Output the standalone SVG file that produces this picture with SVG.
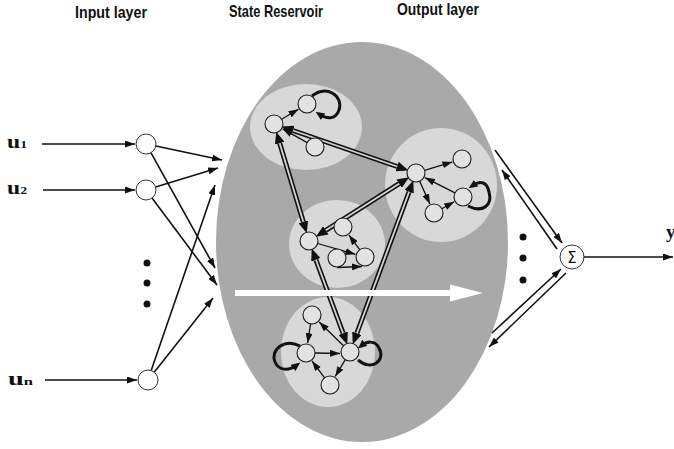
<svg xmlns="http://www.w3.org/2000/svg" width="674" height="449" viewBox="0 0 674 449">
<defs>
<style>
.title{font-family:"Liberation Sans Narrow","Liberation Sans",Arial,sans-serif;font-weight:bold;font-size:17px;fill:#111}
.lbl{font-family:"Liberation Serif","Times New Roman",serif;font-weight:bold;font-size:19px;fill:#111}
.sub{font-size:11px}
.io{fill:#fff;stroke:#333;stroke-width:1}
.nd{fill:#e2e2e2;stroke:#1a1a1a;stroke-width:1.1}
.cl{fill:#d8d8d8}
.ln{stroke:#111;stroke-width:1.6;fill:none;marker-end:url(#ah)}
.sl{stroke:#111;stroke-width:1.3;fill:none;marker-end:url(#as)}
.loop{stroke:#111;stroke-width:3;fill:none;marker-end:url(#al)}
.dbo{stroke:#111;stroke-width:5;fill:none;marker-start:url(#ad);marker-end:url(#ad)}
.dbi{stroke:#d4d4d4;stroke-width:1.8;fill:none}
.dot{fill:#111}
</style>
<marker id="ah" viewBox="0 0 10 7" refX="10" refY="3.5" markerWidth="10" markerHeight="7" markerUnits="userSpaceOnUse" orient="auto"><path d="M0,0 L10,3.5 L0,7 z" fill="#111"/></marker>
<marker id="as" viewBox="0 0 10 7" refX="10" refY="3.5" markerWidth="10" markerHeight="7" markerUnits="userSpaceOnUse" orient="auto"><path d="M0,0 L10,3.5 L0,7 z" fill="#111"/></marker>
<marker id="al" viewBox="0 0 9 8" refX="5" refY="4" markerWidth="9" markerHeight="8" markerUnits="userSpaceOnUse" orient="auto"><path d="M0,0 L9,4 L0,8 z" fill="#111"/></marker>
<marker id="ad" viewBox="0 0 12 10" refX="0" refY="5" markerWidth="12" markerHeight="10" markerUnits="userSpaceOnUse" orient="auto-start-reverse"><path d="M0,0 L12,5 L0,10 z" fill="#111"/></marker>
</defs>
<rect width="674" height="449" fill="#fff"/>

<g id="titles">
<text class="title" x="111" y="18" text-anchor="middle" textLength="72" lengthAdjust="spacingAndGlyphs">Input layer</text>
<text class="title" x="276" y="17" text-anchor="middle" textLength="94" lengthAdjust="spacingAndGlyphs">State Reservoir</text>
<text class="title" x="438" y="15" text-anchor="middle" textLength="82" lengthAdjust="spacingAndGlyphs">Output layer</text>
</g>

<g id="reservoir">
<ellipse cx="362" cy="242" rx="146" ry="200" fill="#a9a9a9"/>
<ellipse class="cl" cx="306" cy="127" rx="56" ry="43"/>
<ellipse class="cl" cx="441" cy="185" rx="56" ry="57"/>
<ellipse class="cl" cx="337" cy="244" rx="48" ry="44"/>
<ellipse class="cl" cx="328" cy="352" rx="47" ry="55"/>
</g>

<g id="connectors">
<!-- input arrows -->
<line class="ln" x1="42" y1="144" x2="135" y2="144"/>
<line class="ln" x1="43" y1="190" x2="135" y2="190"/>
<line class="ln" x1="45" y1="380" x2="137" y2="380"/>
<line class="ln" x1="155.8" y1="146" x2="222" y2="160"/>
<line class="ln" x1="150.9" y1="152.7" x2="215" y2="268"/>
<line class="ln" x1="155.6" y1="187.1" x2="218" y2="168"/>
<line class="ln" x1="152" y1="198" x2="217" y2="285"/>
<line class="ln" x1="151.2" y1="370.5" x2="215" y2="185"/>
<line class="ln" x1="154.2" y1="372.2" x2="213" y2="298"/>
<!-- double links -->
<line class="dbo" x1="292.9" y1="130.5" x2="397.1" y2="166.5"/>
<line class="dbi" x1="292.9" y1="130.5" x2="397.1" y2="166.5"/>
<line class="dbo" x1="279.7" y1="143.2" x2="303.3" y2="221.8"/>
<line class="dbi" x1="279.7" y1="143.2" x2="303.3" y2="221.8"/>
<line class="dbo" x1="325.9" y1="230.3" x2="399.1" y2="183.7"/>
<line class="dbi" x1="325.9" y1="230.3" x2="399.1" y2="183.7"/>
<line class="dbo" x1="409.1" y1="191.8" x2="356.9" y2="333.2"/>
<line class="dbi" x1="409.1" y1="191.8" x2="356.9" y2="333.2"/>
<line class="dbo" x1="315.9" y1="259.8" x2="343.1" y2="333.2"/>
<line class="dbi" x1="315.9" y1="259.8" x2="343.1" y2="333.2"/>
<!-- cluster A -->
<line class="sl" x1="281.7" y1="119.3" x2="298.5" y2="109.2"/>
<line class="sl" x1="307.2" y1="142.6" x2="282.7" y2="128.9"/>
<path class="loop" d="M312,96 C326,84 344,96 339,110 C336,119 328,120 319,114"/>
<!-- cluster B -->
<line class="sl" x1="424.6" y1="170.4" x2="452.4" y2="161.9"/>
<line class="sl" x1="455" y1="192.9" x2="424.9" y2="177.6"/>
<line class="sl" x1="419.7" y1="181.2" x2="429.9" y2="203.9"/>
<line class="sl" x1="441.9" y1="208.7" x2="454.2" y2="201.8"/>
<path class="loop" d="M468,206 C482,213 493,206 489,192 C487,182 481,180 472,186"/>
<!-- cluster C -->
<line class="sl" x1="317.7" y1="243.5" x2="355.4" y2="254.3"/>
<line class="sl" x1="359.7" y1="249.7" x2="348.9" y2="235.1"/>
<line class="sl" x1="337" y1="267.5" x2="362" y2="266.5"/>
<!-- cluster D -->
<line class="sl" x1="310.6" y1="323.9" x2="307.6" y2="343.1"/>
<line class="sl" x1="315" y1="353" x2="340" y2="353.5"/>
<line class="sl" x1="345.3" y1="359.7" x2="335.2" y2="376.5"/>
<line class="sl" x1="324.6" y1="377.8" x2="312" y2="361"/>
<line class="sl" x1="343.5" y1="345.7" x2="319.2" y2="322"/>
<path class="loop" d="M300,346 C284,338 270,350 275,362 C279,371 289,371 297,365"/>
<path class="loop" d="M358,360 C372,372 386,360 379,348 C375,340 367,341 361,346"/>
<!-- output arrows -->
<line class="ln" x1="495" y1="150" x2="562" y2="243"/>
<line class="ln" x1="557" y1="249" x2="502" y2="170"/>
<line class="ln" x1="492" y1="333" x2="561" y2="269"/>
<line class="ln" x1="566" y1="273" x2="489" y2="347"/>
<line class="ln" x1="584" y1="257" x2="673" y2="257"/>
</g>

<g id="flow-arrow">
<line x1="235" y1="293" x2="452" y2="293" stroke="#fff" stroke-width="6"/>
<polygon points="450,284.5 483,293 450,301.5" fill="#fff"/>
</g>

<g id="input-nodes">
<g id="in1"><circle class="io" cx="146" cy="144" r="10"/><text class="lbl" x="7" y="148" textLength="20" lengthAdjust="spacingAndGlyphs">u<tspan class="sub">1</tspan></text></g>
<g id="in2"><circle class="io" cx="146" cy="190" r="10"/><text class="lbl" x="7" y="194" textLength="20" lengthAdjust="spacingAndGlyphs">u<tspan class="sub">2</tspan></text></g>
<g id="inN"><circle class="io" cx="148" cy="380" r="10"/><text class="lbl" x="8" y="385" textLength="25" lengthAdjust="spacingAndGlyphs">u<tspan class="sub">n</tspan></text></g>
<g id="in-dots"><circle class="dot" cx="147" cy="263" r="3.5"/><circle class="dot" cx="147" cy="283" r="3.5"/><circle class="dot" cx="147" cy="304" r="3.5"/></g>
</g>

<g id="reservoir-nodes">
<g id="A"><circle class="nd" cx="274" cy="124" r="9"/><circle class="nd" cx="307" cy="104" r="9"/><circle class="nd" cx="315" cy="147" r="9"/></g>
<g id="B"><circle class="nd" cx="416" cy="173" r="9"/><circle class="nd" cx="462" cy="159" r="9"/><circle class="nd" cx="463" cy="197" r="9"/><circle class="nd" cx="434" cy="213" r="9"/></g>
<g id="C"><circle class="nd" cx="309" cy="241" r="9"/><circle class="nd" cx="343" cy="227" r="9"/><circle class="nd" cx="337" cy="258" r="9"/><circle class="nd" cx="365" cy="257" r="9"/></g>
<g id="D"><circle class="nd" cx="312" cy="315" r="9"/><circle class="nd" cx="306" cy="353" r="9"/><circle class="nd" cx="350" cy="352" r="9"/><circle class="nd" cx="330" cy="385" r="9"/></g>
</g>

<g id="output">
<g id="sum"><circle class="io" cx="572" cy="257" r="12"/><text x="572" y="262.5" text-anchor="middle" font-family="DejaVu Sans, sans-serif" font-size="15" fill="#111">Σ</text></g>
<g id="out-dots"><circle class="dot" cx="523" cy="237" r="3.5"/><circle class="dot" cx="523" cy="258" r="3.5"/><circle class="dot" cx="523" cy="280" r="3.5"/></g>
<text id="y" class="lbl" x="666" y="238" font-size="16">y</text>
</g>
</svg>
